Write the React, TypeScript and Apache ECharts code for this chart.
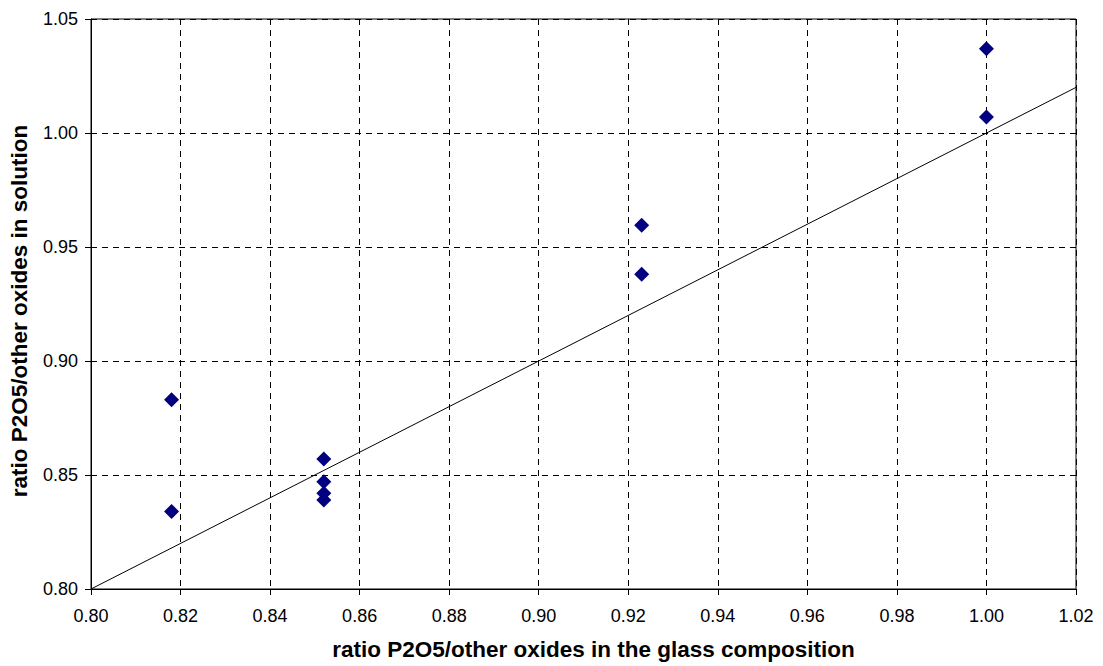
import React, { useEffect, useRef } from "react";
import * as echarts from "echarts";

const glassRatio = [0.818, 0.818, 0.852, 0.852, 0.852, 0.852, 0.923, 0.923, 1.0, 1.0];
const solutionRatio = [0.883, 0.834, 0.857, 0.847, 0.842, 0.839, 0.9595, 0.938, 1.037, 1.007];
const lineX = [0.8, 1.02];
const lineY = [0.8, 1.02];
const xTitle = "ratio P2O5/other oxides in the glass composition";
const yTitle = "ratio P2O5/other oxides in solution";

export default function App() {
  const ref = useRef<HTMLDivElement>(null);
  useEffect(() => {
    document.body.style.margin = "0";
    const chart = echarts.init(ref.current!, null, { renderer: "svg" });
    const font = "'Liberation Sans', Arial, sans-serif";
    chart.setOption({
      animation: false,
      backgroundColor: "#ffffff",
      grid: {
        left: 90,
        right: 27,
        top: 19,
        bottom: 75,
        show: true,
        borderColor: "#000",
        borderWidth: 1,
      },
      xAxis: {
        type: "value",
        min: 0.8,
        max: 1.02,
        interval: 0.02,
        name: xTitle,
        nameLocation: "middle",
        nameGap: 49,
        nameTextStyle: { fontFamily: font, fontWeight: "bold", fontSize: 22.5, color: "#000", padding: [0, 0, 0, 20] },
        axisLine: { show: true, lineStyle: { color: "#000", width: 1 } },
        axisTick: { show: true, inside: false, length: 6, lineStyle: { color: "#000" } },
        axisLabel: {
          fontFamily: font,
          fontSize: 18,
          color: "#000",
          margin: 18,
          formatter: (v: number) => v.toFixed(2),
        },
        splitLine: { show: true, lineStyle: { color: "#000", type: [6, 5], width: 1 } },
      },
      yAxis: {
        type: "value",
        min: 0.8,
        max: 1.05,
        interval: 0.05,
        name: yTitle,
        nameLocation: "middle",
        nameGap: 60,
        nameTextStyle: { fontFamily: font, fontWeight: "bold", fontSize: 22.5, color: "#000", padding: [0, 14, 0, 0] },
        axisLine: { show: true, lineStyle: { color: "#000", width: 1 } },
        axisTick: { show: true, inside: false, length: 6, lineStyle: { color: "#000" } },
        axisLabel: {
          fontFamily: font,
          fontSize: 18,
          color: "#000",
          margin: 13,
          formatter: (v: number) => v.toFixed(2),
        },
        splitLine: { show: true, lineStyle: { color: "#000", type: [6, 5], width: 1 } },
      },
      series: [
        {
          type: "line",
          data: lineX.map((x, i) => [x, lineY[i]]),
          symbol: "none",
          lineStyle: { color: "#000", width: 1 },
          silent: true,
        },
        {
          type: "scatter",
          data: glassRatio.map((x, i) => [x, solutionRatio[i]]),
          symbol: "diamond",
          symbolSize: [15, 15],
          itemStyle: { color: "#000080", opacity: 1 },
        },
      ],
    });
    return () => chart.dispose();
  }, []);
  return <div ref={ref} style={{ width: 1103, height: 666 }} />;
}
